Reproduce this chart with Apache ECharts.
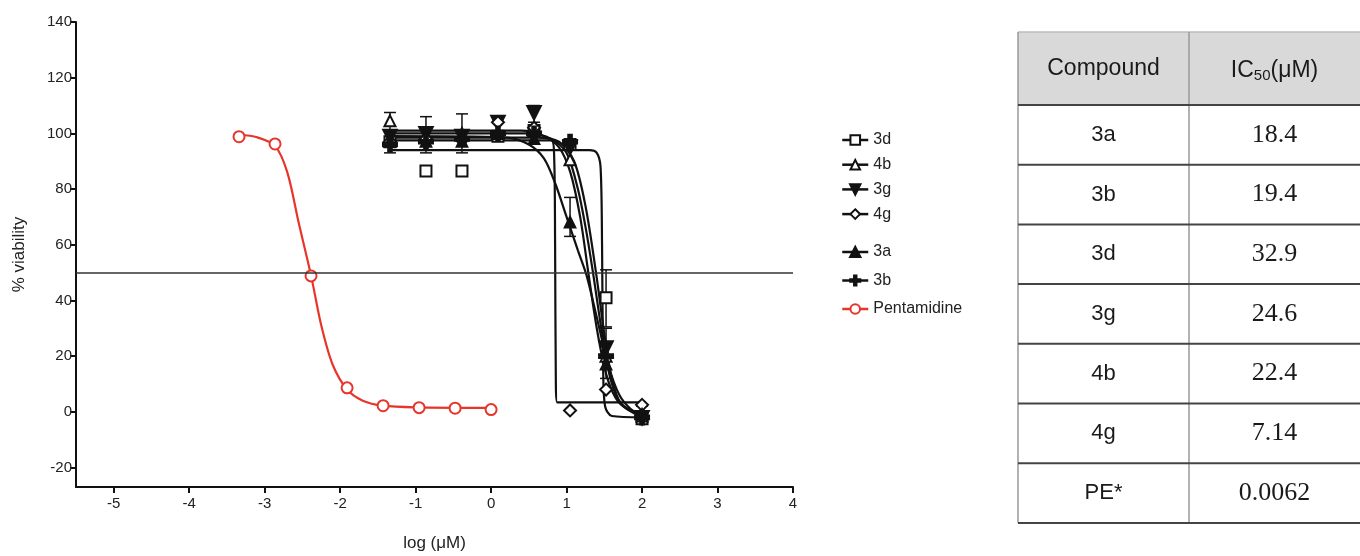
<!DOCTYPE html>
<html>
<head>
<meta charset="utf-8">
<script src="https://cdn.jsdelivr.net/npm/echarts@6/dist/echarts.min.js"></script>
<style>
html,body{margin:0;padding:0;background:#fff;}
#main{width:1360px;height:556px;}
</style>
</head>
<body>
<div id="main"></div>
<script>
// dose points (log uM), 3-fold dilutions
var logDose = [-1.34, -0.863, -0.386, 0.091, 0.569, 1.046, 1.523, 2];
var logDosePE = [-3.34, -2.863, -2.386, -1.908, -1.431, -0.954, -0.477, 0];

// measured % viability
var v3d = [97, 86.5, 86.5, 99, 101, 96, 41, -2.5];
var v4b = [104.5, 99, 100, 100, 101, 90.5, 20, -1.5];
var v3g = [99, 100, 99, 104, 107.5, 95, 23, -2];
var v4g = [97, 98, 97.5, 104, 102, 0.5, 8, 2.5];
var v3a = [97, 97, 97, 100, 98, 68, 17, -1];
var v3b = [96, 97, 98, 100, 100, 97, 20, -2];
var vPE = [98.8, 96.2, 48.8, 8.6, 2.2, 1.5, 1.3, 0.8];

// fitted curves
var fit3d = [[-1.34, 94], [1.3, 94], [1.4, 93], [1.45, 88], [1.47, 60], [1.485, 15], [1.51, 2], [1.6, -1.5], [2, -2]];
var fit4b = [[-1.34, 100], [0.5, 100], [0.8, 98], [1.0, 93], [1.15, 80], [1.26, 65], [1.35, 50], [1.46, 30], [1.58, 12], [1.72, 3], [2, -1.5]];
var fit3g = [[-1.34, 98.5], [0.6, 98.5], [0.9, 97], [1.1, 90], [1.25, 74], [1.39, 50], [1.5, 28], [1.6, 12], [1.72, 3], [2, -2]];
var fit4g = [[-1.34, 97.5], [0.8, 97.5], [0.835, 92], [0.848, 60], [0.858, 10], [0.875, 3.4], [2, 3.4]];
var fit3a = [[-1.34, 99], [0.2, 98.5], [0.5, 96], [0.7, 91], [0.85, 82], [1.0, 70], [1.15, 58], [1.265, 49], [1.4, 34], [1.55, 17], [1.7, 6], [1.85, 1], [2, -1]];
var fit3b = [[-1.34, 101], [0.4, 101], [0.7, 99], [0.9, 95], [1.05, 86], [1.18, 70], [1.288, 50], [1.4, 30], [1.52, 14], [1.65, 5], [1.8, 1], [2, -1]];
var fitPE = [[-3.34, 99.5], [-3.1, 98.6], [-2.863, 95.5], [-2.7, 86], [-2.55, 68], [-2.386, 49], [-2.25, 31], [-2.1, 17], [-1.908, 8], [-1.7, 4], [-1.431, 2.2], [-1, 1.6], [0, 1.4]];

// error bars [x, low, high]
var errBars = [
	[-1.34, 93, 107.5], [-0.863, 93, 106], [-0.386, 93, 107], [0.569, 104, 110],
	[1.046, 63, 77], [1.523, 30.5, 51], [1.523, 12, 30], [2, -4, 2]
];

// table
var compounds = ['3a', '3b', '3d', '3g', '4b', '4g', 'PE*'];
var ic50 = ['18.4', '19.4', '32.9', '24.6', '22.4', '7.14', '0.0062'];

var xTicks = [-5, -4, -3, -2, -1, 0, 1, 2, 3, 4];
var yTicks = [-20, 0, 20, 40, 60, 80, 100, 120, 140];

var BLACK = '#111';
var RED = '#e8352c';
var plusPath = 'path://M4,0h2v4h4v2h-4v4h-2v-4h-4v-2h4z';

function zip(xs, ys) {
	var out = [];
	for(var i = 0; i < xs.length; i++) {
		out.push([xs[i], ys[i]]);
	}
	return out;
}

function pointSeries(name, xs, ys, symbol, size, color, extra) {
	var s = {
		name: name,
		type: 'line',
		data: zip(xs, ys),
		symbol: symbol,
		symbolSize: size,
		showAllSymbol: true,
		lineStyle: { opacity: 0 },
		itemStyle: { color: color, borderColor: color, borderWidth: 3 },
		z: 4,
		animation: false
	};
	if(extra) {
		for(var k in extra) s[k] = extra[k];
	}
	return s;
}

function fitSeries(name, data, color) {
	return {
		name: name,
		type: 'line',
		data: data,
		symbol: 'none',
		smooth: 0.3,
		lineStyle: { color: color, width: 2.2 },
		z: 3,
		animation: false
	};
}

var chart = echarts.init(document.getElementById('main'));

var series = [
	pointSeries('3d', logDose, v3d, 'emptyRect', 11, BLACK),
	pointSeries('4b', logDose, v4b, 'emptyTriangle', 11, BLACK),
	pointSeries('3g', logDose, v3g, 'triangle', 12, BLACK, { symbolRotate: 180 }),
	pointSeries('4g', logDose, v4g, 'emptyDiamond', 12, BLACK),
	pointSeries('3a', logDose, v3a, 'triangle', 9, BLACK),
	pointSeries('3b', logDose, v3b, plusPath, 13, BLACK),
	pointSeries('Pentamidine', logDosePE, vPE, 'emptyCircle', 11, RED),
	fitSeries('3d', fit3d, BLACK),
	fitSeries('4b', fit4b, BLACK),
	fitSeries('3g', fit3g, BLACK),
	fitSeries('4g', fit4g, BLACK),
	fitSeries('3a', fit3a, BLACK),
	fitSeries('3b', fit3b, BLACK),
	fitSeries('Pentamidine', fitPE, RED),
	{
		type: 'custom',
		data: errBars,
		z: 2,
		animation: false,
		renderItem: function(params, api) {
			var top = api.coord([api.value(0), api.value(2)]);
			var bot = api.coord([api.value(0), api.value(1)]);
			var w = 6;
			var st = { stroke: BLACK, lineWidth: 1.5 };
			return {
				type: 'group',
				children: [
					{ type: 'line', shape: { x1: top[0], y1: top[1], x2: bot[0], y2: bot[1] }, style: st },
					{ type: 'line', shape: { x1: top[0] - w, y1: top[1], x2: top[0] + w, y2: top[1] }, style: st },
					{ type: 'line', shape: { x1: bot[0] - w, y1: bot[1], x2: bot[0] + w, y2: bot[1] }, style: st }
				]
			};
		}
	},
	{
		type: 'line',
		data: [],
		markLine: {
			silent: true,
			symbol: 'none',
			label: { show: false },
			lineStyle: { color: '#333', width: 1.5, type: 'solid' },
			data: [{ yAxis: 50 }]
		}
	}
];

// table graphic
var tX = 1018, tDiv = 1189, tR = 1362, tTop = 32, hdrH = 73, rowH = 59.7;
var colA = (tX + tDiv) / 2, colB = (tDiv + 1360) / 2;
var graphics = [];
graphics.push({ type: 'rect', shape: { x: tX, y: tTop, width: tR - tX, height: hdrH }, style: { fill: '#d9d9d9' } });
graphics.push({ type: 'line', shape: { x1: tX, y1: tTop, x2: tR, y2: tTop }, style: { stroke: '#bbb', lineWidth: 1.5 } });
var tBottom = tTop + hdrH + rowH * compounds.length;
graphics.push({ type: 'line', shape: { x1: tX, y1: tTop, x2: tX, y2: tBottom }, style: { stroke: '#999', lineWidth: 1.5 } });
graphics.push({ type: 'line', shape: { x1: tDiv, y1: tTop, x2: tDiv, y2: tBottom }, style: { stroke: '#999', lineWidth: 1.5 } });
graphics.push({
	type: 'text', x: colA, y: tTop + hdrH / 2,
	style: { text: 'Compound', fontSize: 23, fontFamily: 'Liberation Sans', fill: '#1a1a1a', align: 'center', verticalAlign: 'middle' }
});
graphics.push({
	type: 'text', x: colB, y: tTop + hdrH / 2 + 2,
	style: {
		text: '{a|IC}{s|50}{a|(μM)}', align: 'center', verticalAlign: 'middle', fill: '#1a1a1a',
		rich: {
			a: { fontSize: 23, fontFamily: 'Liberation Sans', lineHeight: 30, fill: '#1a1a1a' },
			s: { fontSize: 15, fontFamily: 'Liberation Sans', lineHeight: 30, padding: [10, 0, 0, 0], fill: '#1a1a1a' }
		}
	}
});
for(var i = 0; i < compounds.length; i++) {
	var ly = tTop + hdrH + rowH * i;
	graphics.push({ type: 'line', shape: { x1: tX, y1: ly, x2: tR, y2: ly }, style: { stroke: '#444', lineWidth: 2 } });
	graphics.push({
		type: 'text', x: colA, y: ly + rowH / 2,
		style: { text: compounds[i], fontSize: 22, fontFamily: 'Liberation Sans', fill: '#1a1a1a', align: 'center', verticalAlign: 'middle' }
	});
	graphics.push({
		type: 'text', x: colB, y: ly + rowH / 2,
		style: { text: ic50[i], fontSize: 26, fontFamily: 'Liberation Serif', fill: '#1a1a1a', align: 'center', verticalAlign: 'middle' }
	});
}
graphics.push({ type: 'line', shape: { x1: tX, y1: tBottom, x2: tR, y2: tBottom }, style: { stroke: '#444', lineWidth: 2 } });

var legendCommon = {
	orient: 'vertical',
	left: 836,
	itemWidth: 26,
	itemHeight: 12,
	selectedMode: false,
	textStyle: { fontSize: 16, fontFamily: 'Liberation Sans', color: '#222' },
	lineStyle: { opacity: 1, width: 2.5 },
	itemStyle: { borderWidth: 2.5 }
};

var option = {
	backgroundColor: '#fff',
	animation: false,
	grid: { left: 76, right: 567, top: 22, bottom: 69, containLabel: false, outerBoundsMode: 'none' },
	legend: [
		Object.assign({}, legendCommon, { top: 127, itemGap: 8.7, data: ['3d', '4b', '3g', '4g'] }),
		Object.assign({}, legendCommon, { top: 239, itemGap: 12.5, data: ['3a', '3b', 'Pentamidine'] })
	],
	xAxis: {
		type: 'value',
		min: -5.5,
		max: 4,
		name: 'log (μM)',
		nameLocation: 'middle',
		nameGap: 48,
		nameTextStyle: { fontSize: 17, fontFamily: 'Liberation Sans', color: '#222' },
		axisLine: { onZero: false, lineStyle: { color: BLACK, width: 2 } },
		axisTick: { show: true, length: 6, customValues: xTicks, lineStyle: { color: BLACK, width: 2 } },
		axisLabel: { customValues: xTicks, fontSize: 15, fontFamily: 'Liberation Sans', color: '#222', margin: 9 },
		splitLine: { show: false }
	},
	yAxis: {
		type: 'value',
		min: -27,
		max: 140,
		name: '% viability',
		nameLocation: 'middle',
		nameRotate: 90,
		nameGap: 48,
		nameTextStyle: { fontSize: 17, fontFamily: 'Liberation Sans', color: '#222' },
		axisLine: { show: true, onZero: false, lineStyle: { color: BLACK, width: 2 } },
		axisTick: { show: true, length: 6, customValues: yTicks, lineStyle: { color: BLACK, width: 2 } },
		axisLabel: { customValues: yTicks, fontSize: 15, fontFamily: 'Liberation Sans', color: '#222', margin: 4 },
		splitLine: { show: false }
	},
	graphic: graphics,
	series: series
};

chart.setOption(option);
</script>
</body>
</html>
